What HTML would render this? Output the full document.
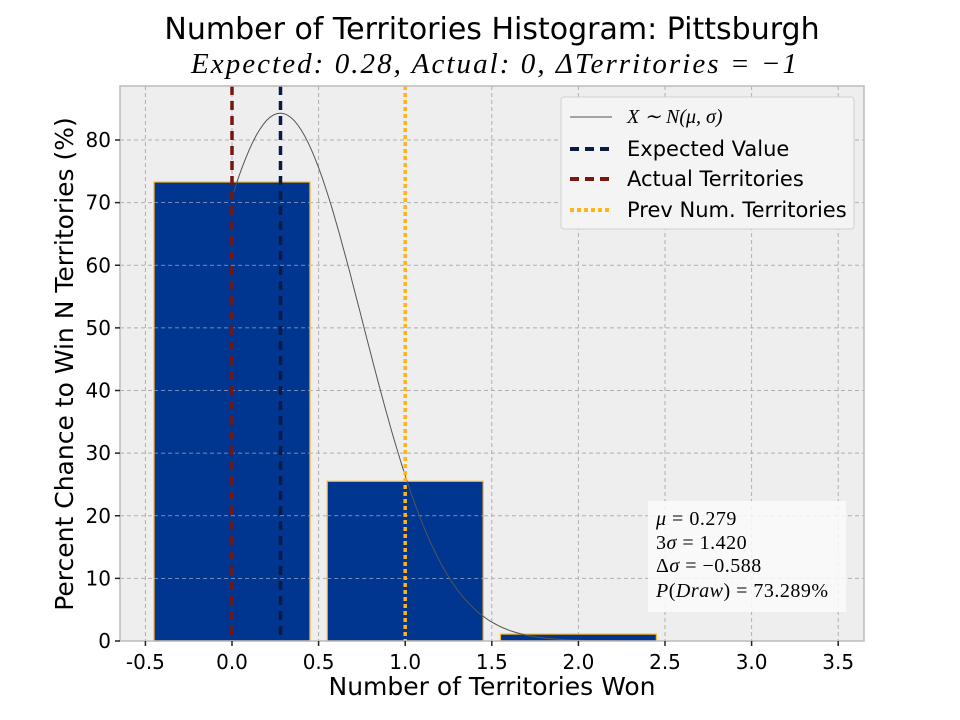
<!DOCTYPE html>
<html><head><meta charset="utf-8"><style>
body{margin:0;background:#fff;font-family:"DejaVu Sans","Liberation Sans",sans-serif}
svg{display:block}
</style></head><body>
<svg id="chart" width="960" height="720" viewBox="0 0 960 720" xmlns="http://www.w3.org/2000/svg" font-family="DejaVu Sans,Liberation Sans,sans-serif">
<text x="492" y="39" font-size="30" text-anchor="middle" fill="#000">Number of Territories Histogram: Pittsburgh</text>
<text x="191" y="73" font-size="29" textLength="606" lengthAdjust="spacing" fill="#000" font-family="Liberation Serif,serif" font-style="italic">Expected: 0.28, Actual: 0, ΔTerritories = −1</text>
<rect x="120" y="86" width="744" height="555" fill="#eeeeee"/>
<g id="grid"></g>
<g id="bars"></g>
<g id="lines"></g>
<rect x="120" y="86" width="744" height="555" fill="none" stroke="#bcbcbc" stroke-width="1.5"/>
<g id="ticks"></g>
<text x="492" y="695" font-size="25" text-anchor="middle">Number of Territories Won</text>
<text transform="translate(73,364) rotate(-90)" font-size="25" text-anchor="middle">Percent Chance to Win N Territories (%)</text>
<g>
<rect x="561" y="97" width="293" height="132" fill="#f4f4f4" stroke="#d0d0d0" rx="3"/>
<line x1="570" y1="117" x2="612" y2="117" stroke="#555" stroke-width="1"/>
<text x="627" y="123" font-size="20" font-family="Liberation Serif,serif" font-style="italic">X ∼ N(μ, σ)</text>
<line x1="570" y1="149" x2="612" y2="149" stroke="#0a1a45" stroke-width="4" stroke-dasharray="9,6"/>
<text x="627" y="156" font-size="21">Expected Value</text>
<line x1="570" y1="179" x2="612" y2="179" stroke="#7a1510" stroke-width="4" stroke-dasharray="9,6"/>
<text x="627" y="186" font-size="21">Actual Territories</text>
<line x1="570" y1="210" x2="612" y2="210" stroke="#ffb419" stroke-width="4" stroke-dasharray="4,3"/>
<text x="627" y="217" font-size="21">Prev Num. Territories</text>
</g>
<g>
<rect x="648" y="501" width="198" height="111" fill="#fafafa" opacity="0.85"/>
<g font-family="Liberation Serif,serif" font-size="20" fill="#000" letter-spacing="0.5">
<text x="656" y="525"><tspan font-style="italic">μ</tspan> = 0.279</text>
<text x="656" y="549">3<tspan font-style="italic">σ</tspan> = 1.420</text>
<text x="656" y="572">Δ<tspan font-style="italic">σ</tspan> = −0.588</text>
<text x="656" y="597"><tspan font-style="italic">P</tspan>(<tspan font-style="italic">Draw</tspan>) = 73.289%</text>
</g></g>
</svg>
<script>
const categories=[0,1,2];
const percents=[73.289,25.5,1.1];
const xTicks=[-0.5,0,0.5,1,1.5,2,2.5,3,3.5];
const yTicks=[0,10,20,30,40,50,60,70,80];
const mu=0.279, sigma=0.4733;
const expectedVal=0.28, actualVal=0, prevVal=1;
const NS="http://www.w3.org/2000/svg";
const X=v=>232+v*173.2, Y=v=>641-v*6.2625;
function mk(tag,attrs,parent){const e=document.createElementNS(NS,tag);for(const k in attrs)e.setAttribute(k,attrs[k]);document.getElementById(parent).appendChild(e);return e;}
xTicks.forEach(t=>{
 const g=mk('line',{x1:X(t),x2:X(t),y1:86,y2:641,stroke:'#b0b0b0','stroke-dasharray':'4,3'},'grid');
 
 
 mk('line',{x1:X(t),x2:X(t),y1:641,y2:646,stroke:'#222','stroke-width':1.5},'ticks');
 const tx=mk('text',{x:X(t),y:669,'font-size':20,'text-anchor':'middle'},'ticks');
 tx.textContent=t.toFixed(1);
 
 
});
yTicks.forEach(t=>{
 const g=mk('line',{x1:120,x2:864,y1:Y(t),y2:Y(t),stroke:'#b0b0b0','stroke-dasharray':'4,3'},'grid');
 
 
 mk('line',{x1:115,x2:120,y1:Y(t),y2:Y(t),stroke:'#222','stroke-width':1.5},'ticks');
 const tx=mk('text',{x:111,y:Y(t)+7,'font-size':20,'text-anchor':'end'},'ticks');
 tx.textContent=t;
 
 
});
categories.forEach((c,i)=>{
 const b=mk('rect',{x:X(c-0.45),y:Y(percents[i]),width:X(0.9)-X(0),height:Y(0)-Y(percents[i]),fill:'#00368f',stroke:'#ffb419','stroke-width':1.2},'bars');
 
 
});
yTicks.forEach(t=>{
 categories.forEach((c,i)=>{ if(t>0&&t<percents[i]){
  const l=mk('line',{x1:X(c-0.45),x2:X(c+0.45),y1:Y(t),y2:Y(t),stroke:'#9aa8c8','stroke-dasharray':'4,3','stroke-width':0.8},'bars');
  
  
 }});
});
let d='';
for(let v=0;v<=3.0001;v+=0.02){const p=100/(sigma*Math.sqrt(2*Math.PI))*Math.exp(-0.5*((v-mu)/sigma)**2);d+=(d?'L':'M')+X(v).toFixed(1)+','+Y(p).toFixed(1);}
const c=mk('path',{d:d,fill:'none',stroke:'#555','stroke-width':1},'lines');


const vl=[[actualVal,'#7a1510','9,6','actual-line'],[expectedVal,'#0a1a45','9,6','expected-line'],[prevVal,'#ffb419','4,3','prev-line']];
vl.forEach(([v,col,da,n])=>{
 const l=mk('line',{x1:X(v),x2:X(v),y1:86,y2:641,stroke:col,'stroke-width':3.5,'stroke-dasharray':da},'lines');
 
 
});
</script>
</body></html>
